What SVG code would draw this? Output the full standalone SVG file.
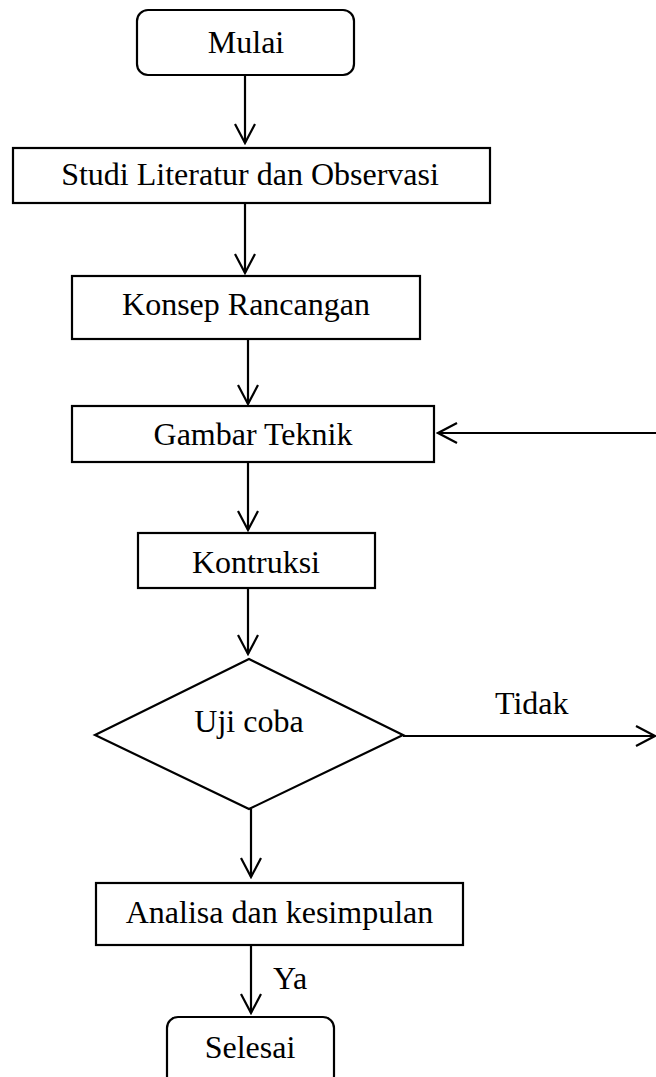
<svg xmlns="http://www.w3.org/2000/svg" width="656" height="1077" viewBox="0 0 656 1077">
<style>
.box{fill:#fff;stroke:#000;stroke-width:2.2}
.t{font-family:"Liberation Serif","Times New Roman",serif;font-size:32px;fill:#000}
.c{text-anchor:middle}
.ln{stroke:#000;stroke-width:2.2;fill:none}
</style>
<defs>
<marker id="ah" markerUnits="userSpaceOnUse" markerWidth="24" markerHeight="24" viewBox="-22 -12 24 24" refX="0" refY="0" orient="auto">
<path d="M-19,-10 L0,0 L-19,10" fill="none" stroke="#000" stroke-width="2.2"/>
</marker>
</defs>
<rect width="656" height="1077" fill="#fff"/>
<g id="connectors">
<line class="ln" x1="245" y1="75" x2="245" y2="143" marker-end="url(#ah)"/>
<line class="ln" x1="245" y1="203" x2="245" y2="273" marker-end="url(#ah)"/>
<line class="ln" x1="248" y1="339" x2="248" y2="404" marker-end="url(#ah)"/>
<line class="ln" x1="248" y1="462" x2="248" y2="530" marker-end="url(#ah)"/>
<line class="ln" x1="248" y1="588" x2="248" y2="654" marker-end="url(#ah)"/>
<line class="ln" x1="403" y1="736" x2="655" y2="736" marker-end="url(#ah)"/>
<line class="ln" x1="656" y1="433" x2="438" y2="433" marker-end="url(#ah)"/>
<line class="ln" x1="251" y1="809" x2="251" y2="877" marker-end="url(#ah)"/>
<line class="ln" x1="251" y1="945" x2="251" y2="1013" marker-end="url(#ah)"/>
<text class="t" x="495" y="714">Tidak</text>
<text class="t" x="273" y="989">Ya</text>
</g>
<g id="mulai">
<rect class="box" x="137" y="10" width="217" height="65" rx="11"/>
<text class="t c" x="246" y="53">Mulai</text>
</g>
<g id="studi">
<rect class="box" x="13" y="148" width="477" height="55"/>
<text class="t c" x="250" y="185">Studi Literatur dan Observasi</text>
</g>
<g id="konsep">
<rect class="box" x="72" y="276" width="348" height="63"/>
<text class="t c" x="246" y="315">Konsep Rancangan</text>
</g>
<g id="gambar">
<rect class="box" x="72" y="406" width="362" height="56"/>
<text class="t c" x="253" y="445">Gambar Teknik</text>
</g>
<g id="kontruksi">
<rect class="box" x="138" y="533" width="237" height="55"/>
<text class="t c" x="256" y="573">Kontruksi</text>
</g>
<g id="ujicoba">
<polygon class="box" points="249,659 403,735 249,809 95,735"/>
<text class="t c" x="249" y="732">Uji coba</text>
</g>
<g id="analisa">
<rect class="box" x="96" y="883" width="367" height="62"/>
<text class="t c" x="279.5" y="923">Analisa dan kesimpulan</text>
</g>
<g id="selesai">
<rect class="box" x="167" y="1017" width="167" height="70" rx="11"/>
<text class="t c" x="250" y="1058">Selesai</text>
</g>
</svg>
